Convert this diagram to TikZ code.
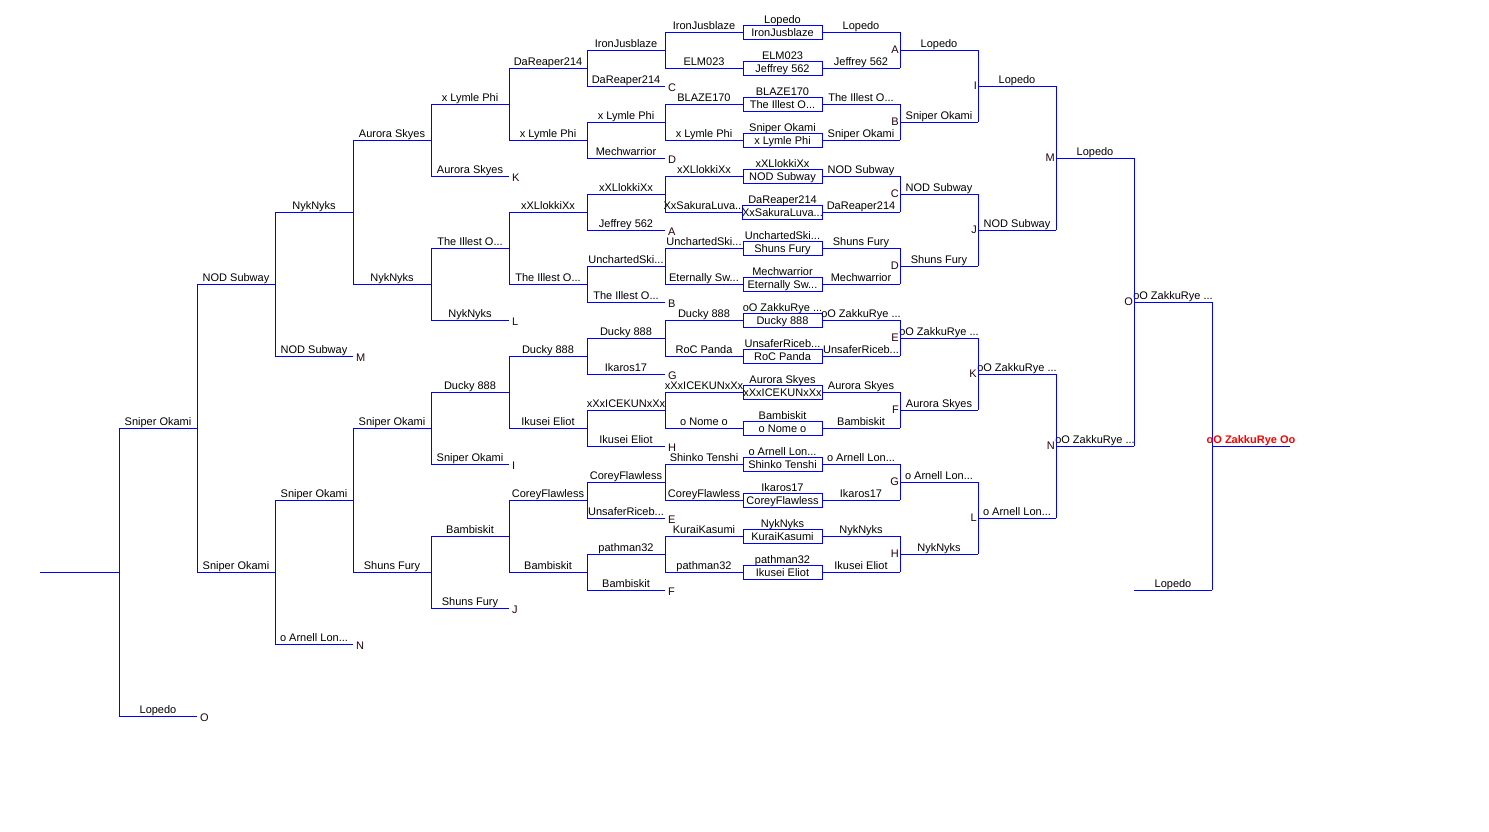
\documentclass[tikz,border=0pt]{standalone}
\usepackage{fontspec}
\setmainfont{Liberation Sans}
\usetikzlibrary{calc}

% one bracket line with the player's name sitting on it
\newcommand{\slot}[5]{%
	\coordinate (#1w) at (#2,#4);
	\coordinate (#1e) at (#3,#4);
	\draw[wire] (#1w) -- node[player] (#1n) {#5} (#1e);}
% first-round game: name, y, upper player, boxed player, winner out, loser out
\newcommand{\game}[6]{%
	\node[gamebox] (#1) at (782.5,#2) {#4};
	\node[player,yshift=-1.2pt] (#1t) at (#1.north) {#3};
	\slot{#1r}{822}{900}{#2}{#5}
	\slot{#1l}{665}{743}{#2}{#6}}

\begin{document}
\begin{tikzpicture}[x=1pt,y=-1pt]
	% `wire' is used for all bracket lines.
	% `matchtag' is used for the match letters (A ... O).
	\tikzstyle{wire} = [draw=blue,line width=1pt]
	\tikzstyle{player} = [anchor=base,yshift=2.5pt,inner sep=0pt,font=\fontsize{11}{12}\selectfont]
	\tikzstyle{gamebox} = [draw=blue,line width=1pt,fill=white,minimum width=79pt,minimum height=14pt,inner sep=0pt,text height=9.6pt,text depth=0pt,font=\fontsize{11}{12}\selectfont]
	\tikzstyle{matchtag} = [inner sep=1pt,text=black!80!purple,font=\fontsize{11}{12}\selectfont]
	\tikzstyle{champion} = [anchor=base,yshift=2.5pt,inner sep=0pt,text=red,font=\fontsize{11}{12}\selectfont\bfseries]
	\useasboundingbox[fill=white] (0,0) rectangle (1489,831);
	%
	% Winners bracket, first round.
	\game{g1}{32}{Lopedo}{IronJusblaze}{Lopedo}{IronJusblaze}
	\game{g2}{68}{ELM023}{Jeffrey 562}{Jeffrey 562}{ELM023}
	\game{g3}{104}{BLAZE170}{The Illest O...}{The Illest O...}{BLAZE170}
	\game{g4}{140}{Sniper Okami}{x Lymle Phi}{Sniper Okami}{x Lymle Phi}
	\game{g5}{176}{xXLlokkiXx}{NOD Subway}{NOD Subway}{xXLlokkiXx}
	\game{g6}{212}{DaReaper214}{XxSakuraLuva...}{DaReaper214}{XxSakuraLuva...}
	\game{g7}{248}{UnchartedSki...}{Shuns Fury}{Shuns Fury}{UnchartedSki...}
	\game{g8}{284}{Mechwarrior}{Eternally Sw...}{Mechwarrior}{Eternally Sw...}
	\game{g9}{320}{oO ZakkuRye ...}{Ducky 888}{oO ZakkuRye ...}{Ducky 888}
	\game{g10}{356}{UnsaferRiceb...}{RoC Panda}{UnsaferRiceb...}{RoC Panda}
	\game{g11}{392}{Aurora Skyes}{xXxICEKUNxXx}{Aurora Skyes}{xXxICEKUNxXx}
	\game{g12}{428}{Bambiskit}{o Nome o}{Bambiskit}{o Nome o}
	\game{g13}{464}{o Arnell Lon...}{Shinko Tenshi}{o Arnell Lon...}{Shinko Tenshi}
	\game{g14}{500}{Ikaros17}{CoreyFlawless}{Ikaros17}{CoreyFlawless}
	\game{g15}{536}{NykNyks}{KuraiKasumi}{NykNyks}{KuraiKasumi}
	\game{g16}{572}{pathman32}{Ikusei Eliot}{Ikusei Eliot}{pathman32}
	%
	% Winners bracket, later rounds.
	\slot{A}{900}{978}{50}{Lopedo} \draw[wire] (g1re) -- (g2re);
	\slot{B}{900}{978}{122}{Sniper Okami} \draw[wire] (g3re) -- (g4re);
	\slot{C}{900}{978}{194}{NOD Subway} \draw[wire] (g5re) -- (g6re);
	\slot{D}{900}{978}{266}{Shuns Fury} \draw[wire] (g7re) -- (g8re);
	\slot{E}{900}{978}{338}{oO ZakkuRye ...} \draw[wire] (g9re) -- (g10re);
	\slot{F}{900}{978}{410}{Aurora Skyes} \draw[wire] (g11re) -- (g12re);
	\slot{G}{900}{978}{482}{o Arnell Lon...} \draw[wire] (g13re) -- (g14re);
	\slot{H}{900}{978}{554}{NykNyks} \draw[wire] (g15re) -- (g16re);
	\slot{I}{978}{1056}{86}{Lopedo} \draw[wire] (Ae) -- (Be);
	\slot{J}{978}{1056}{230}{NOD Subway} \draw[wire] (Ce) -- (De);
	\slot{K}{978}{1056}{374}{oO ZakkuRye ...} \draw[wire] (Ee) -- (Fe);
	\slot{L}{978}{1056}{518}{o Arnell Lon...} \draw[wire] (Ge) -- (He);
	\slot{M}{1056}{1134}{158}{Lopedo} \draw[wire] (Ie) -- (Je);
	\slot{N}{1056}{1134}{446}{oO ZakkuRye ...} \draw[wire] (Ke) -- (Le);
	\slot{O}{1134}{1212}{302}{oO ZakkuRye ...} \draw[wire] (Me) -- (Ne);
	\slot{lw}{1134}{1212}{590}{Lopedo}
	% Grand final.
	\coordinate (fw) at (1212,446);
	\coordinate (fe) at (1290,446);
	\draw[wire] (Oe) -- (lwe);
	\draw[wire] (fw) -- node[champion] (champ) {oO ZakkuRye Oo} (fe);
	\node[matchtag,anchor=east] at (Aw) {A};
	\node[matchtag,anchor=east] at (Bw) {B};
	\node[matchtag,anchor=east] at (Cw) {C};
	\node[matchtag,anchor=east] at (Dw) {D};
	\node[matchtag,anchor=east] at (Ew) {E};
	\node[matchtag,anchor=east] at (Fw) {F};
	\node[matchtag,anchor=east] at (Gw) {G};
	\node[matchtag,anchor=east] at (Hw) {H};
	\node[matchtag,anchor=east] at (Iw) {I};
	\node[matchtag,anchor=east] at (Jw) {J};
	\node[matchtag,anchor=east] at (Kw) {K};
	\node[matchtag,anchor=east] at (Lw) {L};
	\node[matchtag,anchor=east] at (Mw) {M};
	\node[matchtag,anchor=east] at (Nw) {N};
	\node[matchtag,anchor=east] at (Ow) {O};
	%
	% Losers bracket, first round.
	\slot{la1}{587}{665}{50}{IronJusblaze} \draw[wire] (g1lw) -- (g2lw);
	\slot{la2}{587}{665}{86}{DaReaper214}
	\slot{la3}{587}{665}{122}{x Lymle Phi} \draw[wire] (g3lw) -- (g4lw);
	\slot{la4}{587}{665}{158}{Mechwarrior}
	\slot{la5}{587}{665}{194}{xXLlokkiXx} \draw[wire] (g5lw) -- (g6lw);
	\slot{la6}{587}{665}{230}{Jeffrey 562}
	\slot{la7}{587}{665}{266}{UnchartedSki...} \draw[wire] (g7lw) -- (g8lw);
	\slot{la8}{587}{665}{302}{The Illest O...}
	\slot{la9}{587}{665}{338}{Ducky 888} \draw[wire] (g9lw) -- (g10lw);
	\slot{la10}{587}{665}{374}{Ikaros17}
	\slot{la11}{587}{665}{410}{xXxICEKUNxXx} \draw[wire] (g11lw) -- (g12lw);
	\slot{la12}{587}{665}{446}{Ikusei Eliot}
	\slot{la13}{587}{665}{482}{CoreyFlawless} \draw[wire] (g13lw) -- (g14lw);
	\slot{la14}{587}{665}{518}{UnsaferRiceb...}
	\slot{la15}{587}{665}{554}{pathman32} \draw[wire] (g15lw) -- (g16lw);
	\slot{la16}{587}{665}{590}{Bambiskit}
	% Second round.
	\slot{lb1}{509}{587}{68}{DaReaper214} \draw[wire] (la1w) -- (la2w);
	\slot{lb2}{509}{587}{140}{x Lymle Phi} \draw[wire] (la3w) -- (la4w);
	\slot{lb3}{509}{587}{212}{xXLlokkiXx} \draw[wire] (la5w) -- (la6w);
	\slot{lb4}{509}{587}{284}{The Illest O...} \draw[wire] (la7w) -- (la8w);
	\slot{lb5}{509}{587}{356}{Ducky 888} \draw[wire] (la9w) -- (la10w);
	\slot{lb6}{509}{587}{428}{Ikusei Eliot} \draw[wire] (la11w) -- (la12w);
	\slot{lb7}{509}{587}{500}{CoreyFlawless} \draw[wire] (la13w) -- (la14w);
	\slot{lb8}{509}{587}{572}{Bambiskit} \draw[wire] (la15w) -- (la16w);
	% Third round.
	\slot{lc1}{431}{509}{104}{x Lymle Phi} \draw[wire] (lb1w) -- (lb2w);
	\slot{lc2}{431}{509}{176}{Aurora Skyes}
	\slot{lc3}{431}{509}{248}{The Illest O...} \draw[wire] (lb3w) -- (lb4w);
	\slot{lc4}{431}{509}{320}{NykNyks}
	\slot{lc5}{431}{509}{392}{Ducky 888} \draw[wire] (lb5w) -- (lb6w);
	\slot{lc6}{431}{509}{464}{Sniper Okami}
	\slot{lc7}{431}{509}{536}{Bambiskit} \draw[wire] (lb7w) -- (lb8w);
	\slot{lc8}{431}{509}{608}{Shuns Fury}
	% Fourth round.
	\slot{ld1}{353}{431}{140}{Aurora Skyes} \draw[wire] (lc1w) -- (lc2w);
	\slot{ld2}{353}{431}{284}{NykNyks} \draw[wire] (lc3w) -- (lc4w);
	\slot{ld3}{353}{431}{428}{Sniper Okami} \draw[wire] (lc5w) -- (lc6w);
	\slot{ld4}{353}{431}{572}{Shuns Fury} \draw[wire] (lc7w) -- (lc8w);
	% Fifth round.
	\slot{le1}{275}{353}{212}{NykNyks} \draw[wire] (ld1w) -- (ld2w);
	\slot{le2}{275}{353}{356}{NOD Subway}
	\slot{le3}{275}{353}{500}{Sniper Okami} \draw[wire] (ld3w) -- (ld4w);
	\slot{le4}{275}{353}{644}{o Arnell Lon...}
	% Sixth round.
	\slot{lf1}{197}{275}{284}{NOD Subway} \draw[wire] (le1w) -- (le2w);
	\slot{lf2}{197}{275}{572}{Sniper Okami} \draw[wire] (le3w) -- (le4w);
	% Seventh round and losers final.
	\slot{lg1}{119}{197}{428}{Sniper Okami} \draw[wire] (lf1w) -- (lf2w);
	\slot{lg2}{119}{197}{716}{Lopedo}
	\slot{lh1}{40}{119}{572}{} \draw[wire] (lg1w) -- (lg2w);
	% Letters of the games the dropped players come from.
	\node[matchtag,anchor=west,xshift=2pt,yshift=-2pt] at (la2e) {C};
	\node[matchtag,anchor=west,xshift=2pt,yshift=-2pt] at (la4e) {D};
	\node[matchtag,anchor=west,xshift=2pt,yshift=-2pt] at (la6e) {A};
	\node[matchtag,anchor=west,xshift=2pt,yshift=-2pt] at (la8e) {B};
	\node[matchtag,anchor=west,xshift=2pt,yshift=-2pt] at (la10e) {G};
	\node[matchtag,anchor=west,xshift=2pt,yshift=-2pt] at (la12e) {H};
	\node[matchtag,anchor=west,xshift=2pt,yshift=-2pt] at (la14e) {E};
	\node[matchtag,anchor=west,xshift=2pt,yshift=-2pt] at (la16e) {F};
	\node[matchtag,anchor=west,xshift=2pt,yshift=-2pt] at (lc2e) {K};
	\node[matchtag,anchor=west,xshift=2pt,yshift=-2pt] at (lc4e) {L};
	\node[matchtag,anchor=west,xshift=2pt,yshift=-2pt] at (lc6e) {I};
	\node[matchtag,anchor=west,xshift=2pt,yshift=-2pt] at (lc8e) {J};
	\node[matchtag,anchor=west,xshift=2pt,yshift=-2pt] at (le2e) {M};
	\node[matchtag,anchor=west,xshift=2pt,yshift=-2pt] at (le4e) {N};
	\node[matchtag,anchor=west,xshift=2pt,yshift=-2pt] at (lg2e) {O};
\end{tikzpicture}
\end{document}
